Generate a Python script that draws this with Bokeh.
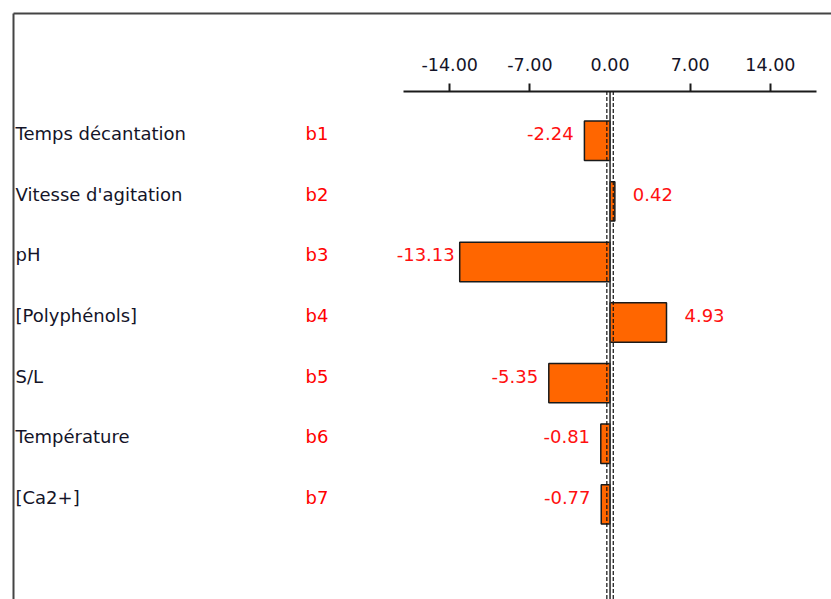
from bokeh.plotting import figure
from bokeh.models import ColumnDataSource, Range1d, LinearAxis, FixedTicker, NumeralTickFormatter
from bokeh.core.properties import value
from bokeh.embed import file_html
from bokeh.resources import INLINE

# Coefficients of the model, one row per factor
factors = ["Temps décantation", "Vitesse d'agitation", "pH", "[Polyphénols]",
           "S/L", "Température", "[Ca2+]"]
codes = ["b1", "b2", "b3", "b4", "b5", "b6", "b7"]
effects = [-2.24, 0.42, -13.13, 4.93, -5.35, -0.81, -0.77]

# Scale of the effect axis
axis_ticks = [-14, -7, 0, 7, 14]
tick_marks = [-14, -7, 7, 14]
axis_bounds = (-18, 18)
ci_half = 0.28          # half-width of the significance band around zero

FONT = value("DejaVu Sans")
SIZE = "18px"
X0, X1 = -52.10, 19.34   # horizontal range shown
Y_TOP, Y_BOTTOM = -1.10, 8.57
AXIS_Y = 0.18

rows = list(range(1, len(factors) + 1))
src = ColumnDataSource(dict(
    row=rows,
    factor=factors,
    code=codes,
    effect=effects,
    label=[f"{v:.2f}" for v in effects],
    shift=[38 if v > 0 else -34 for v in effects],
))

p = figure(width=831, height=599,
           x_range=Range1d(X0, X1), y_range=Range1d(Y_BOTTOM, Y_TOP),
           x_axis_type=None, y_axis_type=None,
           output_backend="svg", toolbar_location=None,
           min_border_left=13, min_border_top=13,
           min_border_right=0, min_border_bottom=0,
           outline_line_color=None,
           background_fill_color="white", border_fill_color="white")

# Frame lines (top and left) of the panel
frame_style = dict(ticker=FixedTicker(ticks=[]), major_tick_out=0, major_tick_in=0,
                   minor_tick_out=0, minor_tick_in=0, major_label_standoff=0,
                   major_label_text_font_size="0px",
                   axis_line_color="#444444", axis_line_width=2)
p.add_layout(LinearAxis(**frame_style), "above")
p.add_layout(LinearAxis(**frame_style), "left")

# Effect axis drawn inside the panel
xaxis = LinearAxis(fixed_location=AXIS_Y, bounds=axis_bounds,
                   ticker=FixedTicker(ticks=axis_ticks, minor_ticks=tick_marks),
                   formatter=NumeralTickFormatter(format="0.00"),
                   axis_line_color="#1a1a1a", axis_line_width=2,
                   major_tick_line_color=None, major_tick_out=8, major_tick_in=0,
                   minor_tick_line_color="#1a1a1a", minor_tick_line_width=2,
                   minor_tick_out=8, minor_tick_in=0,
                   major_label_standoff=12,
                   major_label_text_font="DejaVu Sans",
                   major_label_text_font_size="17.5px",
                   major_label_text_color="#141428")
p.add_layout(xaxis, "above")

# Bars
p.hbar(y="row", left=0, right="effect", height=0.65, source=src,
       fill_color="#ff6600", line_color="#1a1a1a", line_width=1.5)

# Zero line and significance limits
p.segment(x0=[0], y0=[AXIS_Y], x1=[0], y1=[Y_BOTTOM + 1],
          line_color="#333333", line_width=1.6)
p.segment(x0=[-ci_half, ci_half], y0=[AXIS_Y, AXIS_Y],
          x1=[-ci_half, ci_half], y1=[Y_BOTTOM + 1, Y_BOTTOM + 1],
          line_color="#111111", line_width=1.2, line_dash="4 2")

# Factor names and coefficient codes
p.text(x=X0, y="row", text="factor", source=src, x_offset=2, y_offset=-7,
       text_baseline="alphabetic", text_align="left",
       text_font=FONT, text_font_size=SIZE, text_color="#141428")
p.text(x=X0, y="row", text="code", source=src, x_offset=292, y_offset=-7,
       text_baseline="alphabetic", text_align="left",
       text_font=FONT, text_font_size=SIZE, text_color="#ff0000")

# Coefficient values beside each bar
p.text(x="effect", y="row", text="label", source=src, x_offset="shift", y_offset=-7,
       text_baseline="alphabetic", text_align="center",
       text_font=FONT, text_font_size=SIZE, text_color="#ff1010")

open("out.html", "w").write(file_html(p, INLINE))
